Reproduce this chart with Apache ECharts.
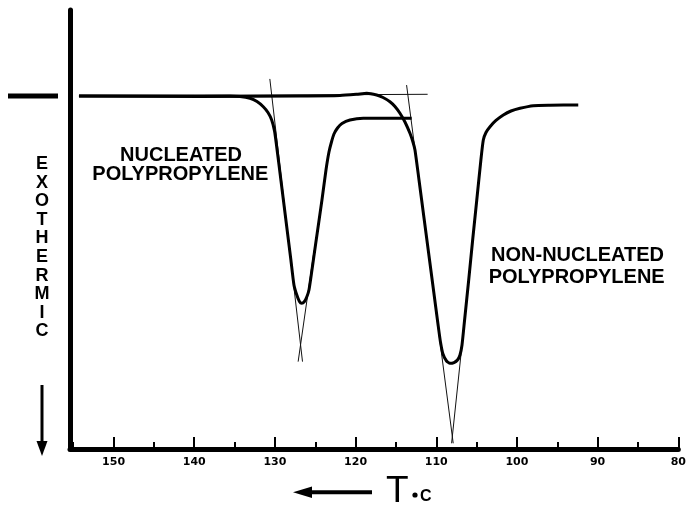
<!DOCTYPE html>
<html>
<head>
<meta charset="utf-8">
<script src="https://cdn.jsdelivr.net/npm/echarts@6/dist/echarts.min.js"></script>
<style>
html,body{margin:0;padding:0;background:#fff;}
#chart{width:690px;height:507px;}
</style>
</head>
<body>
<div id="chart"></div>
<script>
// ---- data (temperature °C, relative exothermic signal) ----
const xTickValues = [150, 140, 130, 120, 110, 100, 90, 80];

const nucleatedT = [154.28, 145.48, 135.57, 134.33, 133.09, 132.22, 131.44, 130.86, 130.40, 130.05, 129.78, 129.26, 128.64, 128.02, 127.64, 127.33, 126.96, 126.68, 126.34, 126.03, 125.78, 125.41, 124.97, 124.17, 123.67, 123.30, 122.99, 122.68, 122.24, 121.69, 120.70, 119.05, 113.05];
const nucleatedSignal = [80.41, 80.41, 80.41, 80.30, 79.89, 79.16, 77.97, 76.65, 74.94, 72.44, 68.86, 61.28, 52.16, 43.05, 37.36, 35.31, 33.60, 33.19, 33.60, 34.74, 36.22, 40.77, 46.47, 56.72, 63.55, 67.65, 69.93, 71.75, 73.12, 74.15, 74.94, 75.33, 75.33];

const nonNucleatedT = [154.28, 139.29, 126.89, 121.93, 119.86, 118.62, 117.39, 116.60, 115.74, 115.12, 114.50, 113.88, 113.26, 112.89, 112.64, 112.14, 111.52, 110.90, 110.28, 109.79, 109.48, 109.17, 108.73, 108.30, 107.80, 107.37, 107.06, 106.81, 106.49, 105.98, 105.49, 104.98, 104.47, 104.17, 103.84, 103.34, 102.60, 101.69, 100.74, 99.62, 97.98, 95.91, 92.40];
const nonNucleatedSignal = [80.41, 80.30, 80.41, 80.52, 80.80, 81.03, 80.64, 80.07, 79.11, 78.02, 76.47, 74.49, 71.91, 69.93, 68.11, 61.28, 52.62, 43.96, 35.31, 28.47, 24.37, 21.64, 20.05, 19.52, 19.70, 20.27, 21.41, 23.69, 29.38, 38.50, 47.61, 56.72, 65.83, 70.39, 72.10, 73.42, 74.83, 76.08, 76.99, 77.61, 78.20, 78.31, 78.36];

// construction lines (thin)
const baselineT = [154.3, 111.07];
const baselineSignal = [80.4, 80.8];
const nucLeftTanT = [130.63, 126.58];
const nucLeftTanSignal = [84.3, 19.9];
const nucRightTanT = [127.12, 125.14];
const nucRightTanSignal = [19.9, 45.3];
const nonLeftTanT = [113.68, 107.90];
const nonLeftTanSignal = [82.9, 1.3];
const nonRightTanT = [108.10, 105.83];
const nonRightTanSignal = [1.3, 40.8];

const baselineMarkLevel = 80.4;

const yLetters = ['E','X','O','T','H','E','R','M','I','C'];

function zip(a, b) { return a.map((v, i) => [v, b[i]]); }

const chart = echarts.init(document.getElementById('chart'), null, {renderer: 'canvas'});

const thick = {color: '#000', width: 3};
const thin = {color: '#111', width: 1};

function lineSeries(data, style, smooth) {
  return {
    type: 'line', data: data, showSymbol: false, symbol: 'none',
    smooth: smooth ? 0.2 : false,
    lineStyle: style, silent: true, animation: false, z: style.width > 2 ? 3 : 2
  };
}

const FONT = '"Liberation Sans", Arial, sans-serif';

chart.setOption({
  backgroundColor: '#fff',
  animation: false,
  grid: {left: 70, right: 11.7, top: 10, bottom: 58, containLabel: false},
  xAxis: {
    type: 'value', inverse: true, min: 80, max: 155.4, interval: 10,
    axisLine: {show: true, onZero: false, lineStyle: {color: '#000', width: 5}},
    axisTick: {show: true, inside: true, length: 12, lineStyle: {color: '#000', width: 2}},
    minorTick: {show: true, splitNumber: 2, length: 7, lineStyle: {color: '#000', width: 2}},
    splitLine: {show: false}, minorSplitLine: {show: false},
    axisLabel: {
      show: true, margin: 8, color: '#000', fontSize: 11, fontWeight: 'bold', fontFamily: '"DejaVu Sans", sans-serif',
      showMaxLabel: false,
      formatter: function (v) { return xTickValues.indexOf(Math.round(v)) >= 0 && Math.abs(v - Math.round(v)) < 1e-6 ? String(Math.round(v)) : ''; }
    }
  },
  yAxis: {
    type: 'value', min: 0, max: 100,
    axisLine: {show: true, lineStyle: {color: '#000', width: 5}},
    axisTick: {show: false}, axisLabel: {show: false}, splitLine: {show: false}
  },
  series: [
    lineSeries(zip(baselineT, baselineSignal), thin, false),
    lineSeries(zip(nucLeftTanT, nucLeftTanSignal), thin, false),
    lineSeries(zip(nucRightTanT, nucRightTanSignal), thin, false),
    lineSeries(zip(nonLeftTanT, nonLeftTanSignal), thin, false),
    lineSeries(zip(nonRightTanT, nonRightTanSignal), thin, false),
    lineSeries(zip(nucleatedT, nucleatedSignal), thick, true),
    lineSeries(zip(nonNucleatedT, nonNucleatedSignal), thick, true)
  ]
});

// annotations
const markY = chart.convertToPixel({yAxisIndex: 0}, baselineMarkLevel);
const graphics = [];
graphics.push({type: 'line', shape: {x1: 8, y1: markY, x2: 58, y2: markY}, style: {stroke: '#000', lineWidth: 5}, silent: true});

yLetters.forEach(function (ch, i) {
  graphics.push({type: 'text', x: 42, y: 164 + i * 18.6, silent: true,
    style: {text: ch, fill: '#000', font: 'bold 18px ' + FONT, textAlign: 'center', textVerticalAlign: 'middle'}});
});
// down arrow
graphics.push({type: 'line', shape: {x1: 42, y1: 385, x2: 42, y2: 444}, style: {stroke: '#000', lineWidth: 3}, silent: true});
graphics.push({type: 'polygon', shape: {points: [[36.5, 441], [47.5, 441], [42, 456]]}, style: {fill: '#000'}, silent: true});

// labels
function label(t, x, y) {
  graphics.push({type: 'text', x: x, y: y, silent: true,
    style: {text: t, fill: '#000', font: 'bold 20px ' + FONT, textAlign: 'center', textVerticalAlign: 'middle'}});
}
label('NUCLEATED', 181, 155);
label('POLYPROPYLENE', 180.3, 174.5);
label('NON-NUCLEATED', 577.5, 255.5);
label('POLYPROPYLENE', 576.7, 277);

// bottom axis title: arrow + T °C
graphics.push({type: 'line', shape: {x1: 304, y1: 492.3, x2: 372, y2: 492.3}, style: {stroke: '#000', lineWidth: 4}, silent: true});
graphics.push({type: 'polygon', shape: {points: [[293, 492.3], [312, 486.5], [312, 498.1]]}, style: {fill: '#000'}, silent: true});
graphics.push({type: 'text', x: 386, y: 492, silent: true,
  style: {text: 'T', fill: '#000', font: '37px ' + FONT, textAlign: 'left', textVerticalAlign: 'middle'}});
graphics.push({type: 'circle', shape: {cx: 415, cy: 495, r: 2.6}, style: {fill: '#000'}, silent: true});
graphics.push({type: 'text', x: 420, y: 497, silent: true,
  style: {text: 'C', fill: '#000', font: 'bold 16px ' + FONT, textAlign: 'left', textVerticalAlign: 'middle'}});

chart.setOption({graphic: graphics});
</script>
</body>
</html>
